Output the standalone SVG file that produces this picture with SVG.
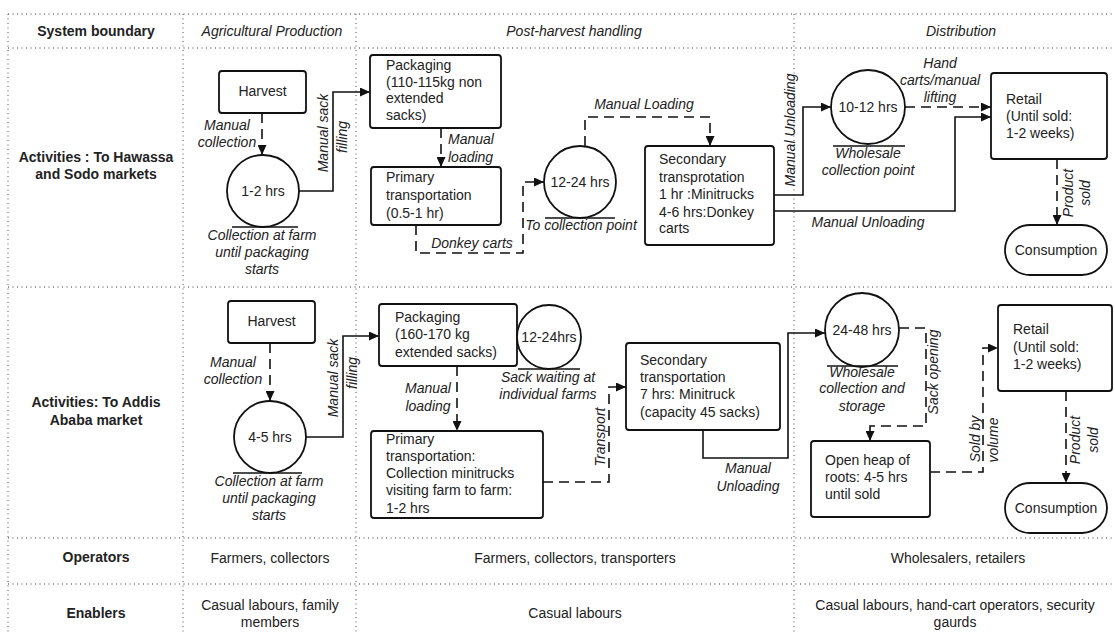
<svg xmlns="http://www.w3.org/2000/svg" width="1115" height="635" viewBox="0 0 1115 635">
<defs>
<marker id="ah" markerUnits="userSpaceOnUse" markerWidth="11" markerHeight="9" refX="10" refY="4.5" orient="auto">
<path d="M0,0 L10,4.5 L0,9 z" fill="#111"/>
</marker>
<style>
.grid{stroke:#777;stroke-width:1.3;stroke-dasharray:1 3.5;fill:none}
.box{fill:#fff;stroke:#111;stroke-width:1.8}
.ul{stroke:#111;stroke-width:1.5}
.sol{fill:none;stroke:#111;stroke-width:1.6;marker-end:url(#ah)}
.dsh{fill:none;stroke:#111;stroke-width:1.6;stroke-dasharray:10 6;marker-end:url(#ah)}
text{font-family:"Liberation Sans",Arial,sans-serif;font-size:14px;fill:#222}
.c{text-anchor:middle}
.i{font-style:italic}
.b{font-weight:bold}
</style>
</defs>
<rect width="1115" height="635" fill="#fff"/>
<g id="grid">
<line class="grid" x1="8" y1="14" x2="1115" y2="14"/>
<line class="grid" x1="8" y1="48" x2="1115" y2="48"/>
<line class="grid" x1="8" y1="287" x2="1115" y2="287"/>
<line class="grid" x1="8" y1="538" x2="1115" y2="538"/>
<line class="grid" x1="8" y1="584" x2="1115" y2="584"/>
<line class="grid" x1="8" y1="14" x2="8" y2="635"/>
<line class="grid" x1="183" y1="14" x2="183" y2="635"/>
<line class="grid" x1="356" y1="14" x2="356" y2="635"/>
<line class="grid" x1="794" y1="14" x2="794" y2="635"/>
</g>
<g id="table-text">
<text class="c b" x="96" y="36">System boundary</text>
<text class="c i" x="272" y="36">Agricultural Production</text>
<text class="c i" x="574" y="36">Post-harvest handling</text>
<text class="c i" x="961" y="36">Distribution</text>
<text class="c b" x="96" y="162">Activities : To Hawassa</text>
<text class="c b" x="96" y="179">and Sodo markets</text>
<text class="c b" x="96" y="407">Activities: To Addis</text>
<text class="c b" x="96" y="425">Ababa market</text>
<text class="c b" x="96" y="562">Operators</text>
<text class="c" x="270" y="563">Farmers, collectors</text>
<text class="c" x="575" y="563">Farmers, collectors, transporters</text>
<text class="c" x="958" y="563">Wholesalers, retailers</text>
<text class="c b" x="96" y="618">Enablers</text>
<text class="c" x="270" y="610">Casual labours, family</text>
<text class="c" x="270" y="627">members</text>
<text class="c" x="575" y="618">Casual labours</text>
<text class="c" x="955" y="610">Casual labours, hand-cart operators, security</text>
<text class="c" x="955" y="627">gaurds</text>
</g>
<g id="connectors">
<path class="dsh" d="M262,113 V155"/>
<path class="sol" d="M299,191 H333 V92 H370"/>
<path class="dsh" d="M441,128 V167"/>
<path class="dsh" d="M416,225 V253 H523 V182 H544"/>
<path class="dsh" d="M585,146 V117 H710 V146"/>
<path class="sol" d="M774,195 H803 V107 H831"/>
<path class="sol" d="M774,211 H955 V117 H991"/>
<path class="dsh" d="M905,107 H991"/>
<path class="dsh" d="M1057,159 V225"/>
<path class="dsh" d="M270,343 V401"/>
<path class="sol" d="M306,437 H343 V336 H379"/>
<path class="dsh" d="M457,366 V431"/>
<path class="dsh" d="M543,482 H609 V387 H626"/>
<path class="sol" d="M703,430 V458 H788 V333 H825"/>
<path class="dsh" d="M899,328 H926 V426 H870 V441"/>
<path class="dsh" d="M930,472 H983 V348 H998"/>
<path class="dsh" d="M1066,391 V483"/>
<text class="c i" x="227" y="130">Manual</text>
<text class="c i" x="227" y="147">collection</text>
<text class="c i" transform="translate(328,133) rotate(-90)">Manual sack</text>
<text class="c i" transform="translate(347,137) rotate(-90)">filling</text>
<text class="i" x="448" y="144">Manual</text>
<text class="i" x="448" y="162">loading</text>
<text class="c i" x="472" y="248">Donkey carts</text>
<text class="c i" x="644" y="109">Manual Loading</text>
<text class="c i" transform="translate(795,130) rotate(-90)">Manual Unloading</text>
<text class="c i" x="868" y="227">Manual Unloading</text>
<text class="c i" x="940" y="68">Hand</text>
<text class="c i" x="940" y="85">carts/manual</text>
<text class="c i" x="940" y="102">lifting</text>
<text class="c i" transform="translate(1073,193) rotate(-90)">Product</text>
<text class="c i" transform="translate(1090,193) rotate(-90)">sold</text>
<text class="c i" x="233" y="367">Manual</text>
<text class="c i" x="233" y="384">collection</text>
<text class="c i" transform="translate(338,378) rotate(-90)">Manual sack</text>
<text class="c i" transform="translate(357,373) rotate(-90)">filling</text>
<text class="c i" x="428" y="393">Manual</text>
<text class="c i" x="428" y="411">loading</text>
<text class="c i" transform="translate(605,437) rotate(-90)">Transport</text>
<text class="c i" x="748" y="473">Manual</text>
<text class="c i" x="748" y="491">Unloading</text>
<text class="c i" transform="translate(938,372) rotate(-90)">Sack opening</text>
<text class="c i" transform="translate(980,439) rotate(-90)">Sold by</text>
<text class="c i" transform="translate(998,440) rotate(-90)">volume</text>
<text class="c i" transform="translate(1080,440) rotate(-90)">Product</text>
<text class="c i" transform="translate(1098,440) rotate(-90)">sold</text>
</g>
<g id="harvest1">
<rect class="box" x="219" y="71" width="87" height="42" rx="3"/>
<text class="c" x="262.5" y="96">Harvest</text>
</g>
<g id="wait1">
<circle class="box" cx="263" cy="191" r="36"/>
<line class="ul" x1="232" y1="227" x2="298" y2="227"/>
<text class="c" x="263" y="196">1-2 hrs</text>
<text class="c i" x="262" y="240">Collection at farm</text>
<text class="c i" x="262" y="257">until packaging</text>
<text class="c i" x="262" y="274">starts</text>
</g>
<g id="packaging1">
<rect class="box" x="370" y="55" width="131" height="73" rx="3"/>
<text x="386" y="70">Packaging</text>
<text x="386" y="87">(110-115kg non</text>
<text x="386" y="103">extended</text>
<text x="386" y="120">sacks)</text>
</g>
<g id="primary1">
<rect class="box" x="371" y="167" width="130" height="58" rx="3"/>
<text x="386" y="182">Primary</text>
<text x="386" y="200">transportation</text>
<text x="386" y="218">(0.5-1 hr)</text>
</g>
<g id="wait2">
<circle class="box" cx="580" cy="182" r="36"/>
<line class="ul" x1="545" y1="218" x2="615" y2="218"/>
<text class="c" x="580" y="187">12-24 hrs</text>
<text class="c i" x="581" y="230">To collection point</text>
</g>
<g id="secondary1">
<rect class="box" x="645" y="146" width="129" height="99" rx="3"/>
<text x="659" y="164">Secondary</text>
<text x="659" y="182">transprotation</text>
<text x="659" y="199">1 hr :Minitrucks</text>
<text x="659" y="217">4-6 hrs:Donkey</text>
<text x="659" y="233">carts</text>
</g>
<g id="wholesale1">
<circle class="box" cx="868" cy="107" r="37"/>
<line class="ul" x1="833" y1="146" x2="905" y2="146"/>
<text class="c" x="868" y="112">10-12 hrs</text>
<text class="c i" x="868" y="158">Wholesale</text>
<text class="c i" x="868" y="175">collection point</text>
</g>
<g id="retail1">
<rect class="box" x="991" y="73" width="116" height="86" rx="3"/>
<text x="1006" y="104">Retail</text>
<text x="1006" y="121">(Until sold:</text>
<text x="1006" y="138">1-2 weeks)</text>
</g>
<g id="consumption1">
<rect class="box" x="1005" y="225" width="102" height="50" rx="25"/>
<text class="c" x="1056" y="255">Consumption</text>
</g>
<g id="harvest2">
<rect class="box" x="228" y="301" width="87" height="42" rx="3"/>
<text class="c" x="271.5" y="326">Harvest</text>
</g>
<g id="wait3">
<circle class="box" cx="270" cy="437" r="36"/>
<line class="ul" x1="233" y1="473" x2="302" y2="473"/>
<text class="c" x="270" y="442">4-5 hrs</text>
<text class="c i" x="269" y="486">Collection at farm</text>
<text class="c i" x="269" y="503">until packaging</text>
<text class="c i" x="269" y="520">starts</text>
</g>
<g id="packaging2">
<rect class="box" x="379" y="304" width="138" height="62" rx="3"/>
<text x="395" y="322">Packaging</text>
<text x="395" y="339">(160-170 kg</text>
<text x="395" y="357">extended sacks)</text>
</g>
<g id="wait4">
<circle class="box" cx="549" cy="337" r="32"/>
<line class="ul" x1="518" y1="369" x2="580" y2="369"/>
<text class="c" x="549" y="342">12-24hrs</text>
<text class="c i" x="548" y="382">Sack waiting at</text>
<text class="c i" x="548" y="399">individual farms</text>
</g>
<g id="primary2">
<rect class="box" x="371" y="431" width="172" height="87" rx="3"/>
<text x="386" y="444">Primary</text>
<text x="386" y="461">transportation:</text>
<text x="386" y="478">Collection minitrucks</text>
<text x="386" y="495">visiting farm to farm:</text>
<text x="386" y="513">1-2 hrs</text>
</g>
<g id="secondary2">
<rect class="box" x="626" y="343" width="154" height="87" rx="3"/>
<text x="640" y="365">Secondary</text>
<text x="640" y="382">transportation</text>
<text x="640" y="399">7 hrs: Minitruck</text>
<text x="640" y="417">(capacity 45 sacks)</text>
</g>
<g id="wholesale2">
<circle class="box" cx="862" cy="330" r="37"/>
<line class="ul" x1="827" y1="366" x2="898" y2="366"/>
<text class="c" x="862" y="335">24-48 hrs</text>
<text class="c i" x="862" y="377">Wholesale</text>
<text class="c i" x="862" y="393">collection and</text>
<text class="c i" x="862" y="411">storage</text>
</g>
<g id="openheap">
<rect class="box" x="811" y="441" width="119" height="76" rx="3"/>
<text x="825" y="465">Open heap of</text>
<text x="825" y="482">roots:  4-5 hrs</text>
<text x="825" y="499">until sold</text>
</g>
<g id="retail2">
<rect class="box" x="998" y="305" width="114" height="86" rx="3"/>
<text x="1013" y="334">Retail</text>
<text x="1013" y="352">(Until sold:</text>
<text x="1013" y="369">1-2 weeks)</text>
</g>
<g id="consumption2">
<rect class="box" x="1005" y="483" width="102" height="50" rx="25"/>
<text class="c" x="1056" y="513">Consumption</text>
</g>
</svg>
